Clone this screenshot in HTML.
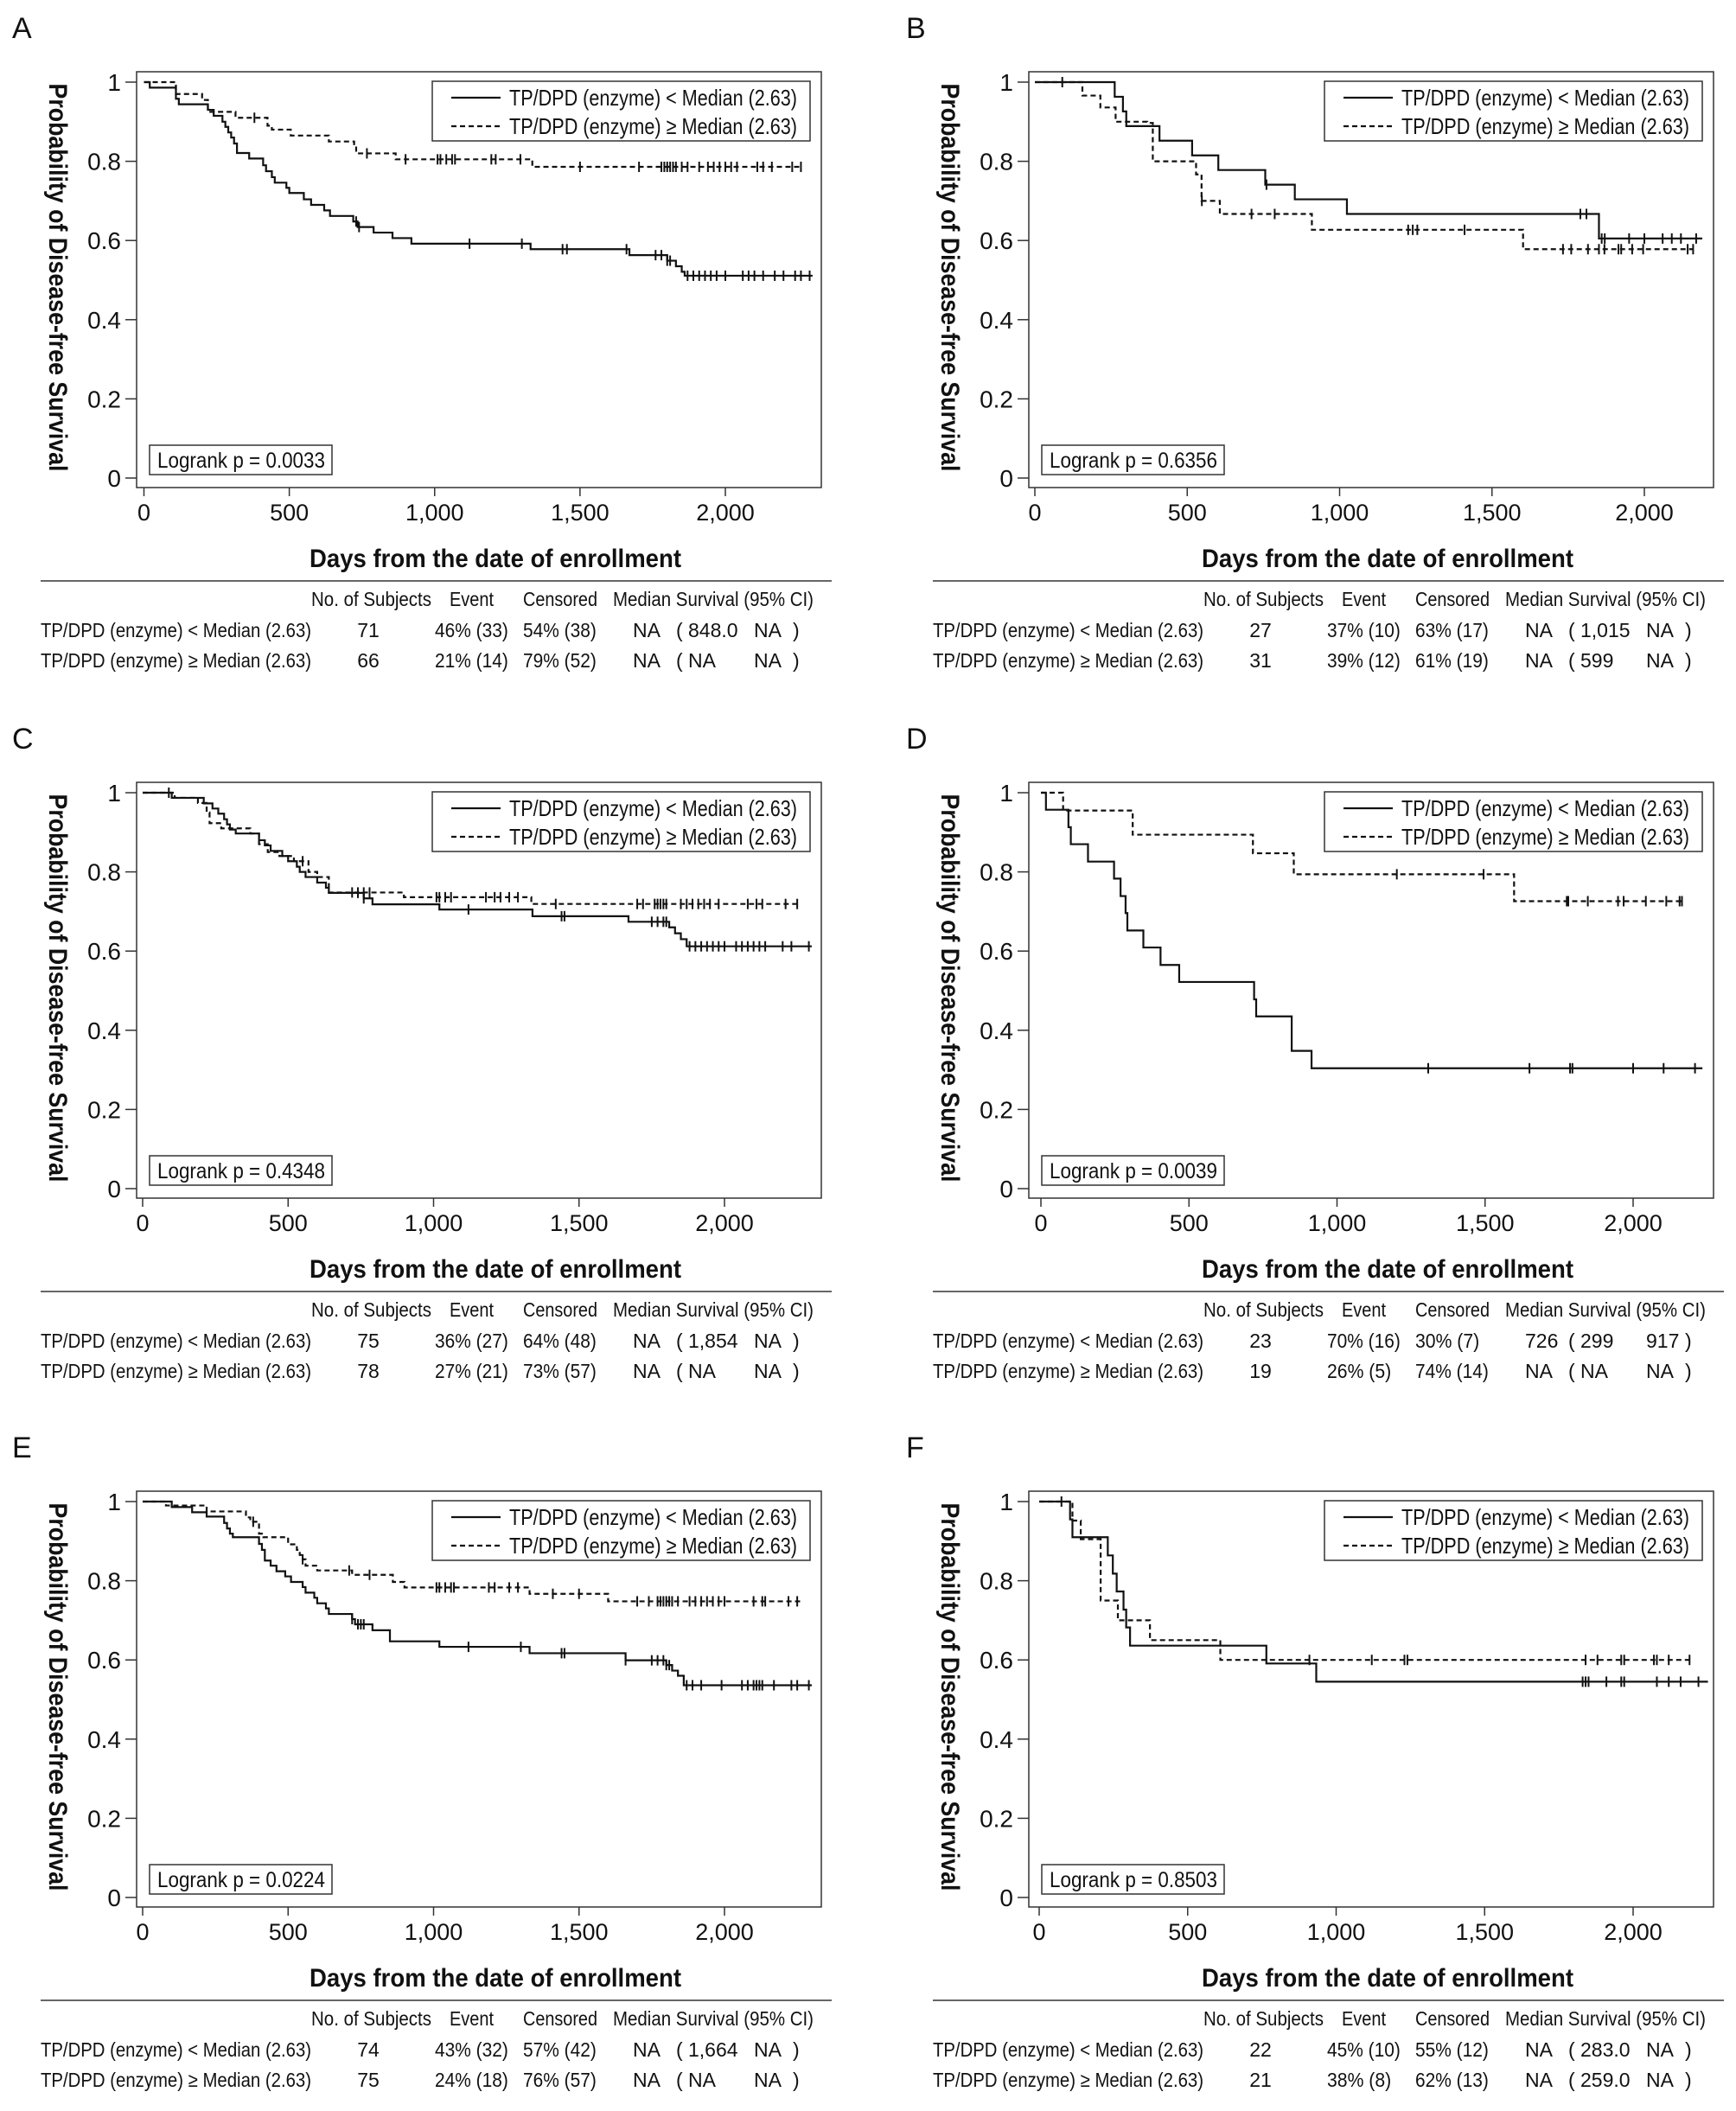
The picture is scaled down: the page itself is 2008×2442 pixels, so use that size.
<!DOCTYPE html>
<html><head><meta charset="utf-8">
<style>
html,body{margin:0;padding:0;background:#fff;}
svg{display:block;}
text{font-family:"Liberation Sans",sans-serif;fill:#111;}
</style></head>
<body>
<svg id="fig" width="2008" height="2442" viewBox="0 0 2008 2442" xmlns="http://www.w3.org/2000/svg"></svg>
<script>
// ---------- data (step times in days, survival after step) ----------
const yTicks = [0, 0.2, 0.4, 0.6, 0.8, 1];
const yTickLabels = ["0", "0.2", "0.4", "0.6", "0.8", "1"];
const xTicks = [0, 500, 1000, 1500, 2000];
const xTickLabels = ["0", "500", "1,000", "1,500", "2,000"];

const A_lowT = [20,110,120,220,240,270,280,290,300,310,320,362,410,420,440,450,490,500,550,575,620,640,720,735,790,855,920,1330,1670,1800,1830,1850,1860];
const A_lowS = [0.986,0.958,0.944,0.93,0.915,0.90,0.887,0.873,0.86,0.845,0.821,0.807,0.79,0.775,0.76,0.746,0.733,0.72,0.704,0.69,0.676,0.662,0.648,0.634,0.62,0.606,0.592,0.578,0.563,0.549,0.535,0.521,0.511];
const A_lowCens = [730,740,1120,1300,1440,1455,1660,1760,1780,1800,1810,1870,1890,1910,1930,1950,1970,2000,2060,2080,2100,2130,2170,2200,2240,2260,2290];
const A_lowEnd = 2300;
const A_highT = [110,200,220,315,425,440,505,636,723,730,866,1336];
const A_highS = [0.97,0.955,0.925,0.91,0.89,0.88,0.865,0.85,0.835,0.82,0.805,0.786];
const A_highCens = [380,767,900,1010,1020,1040,1060,1070,1195,1210,1295,1500,1703,1780,1790,1800,1810,1820,1830,1850,1870,1910,1940,1960,1980,2000,2020,2040,2110,2130,2160,2230,2260];
const A_highEnd = 2260;

const B_lowT = [262,289,300,409,516,602,756,853,1024,1851];
const B_lowS = [0.963,0.926,0.889,0.852,0.815,0.778,0.741,0.704,0.667,0.605];
const B_lowCens = [90,760,1790,1810,1860,1870,1950,2000,2060,2090,2120,2170];
const B_lowEnd = 2190;
const B_highT = [156,215,265,369,387,529,547,607,909,1602];
const B_highS = [0.966,0.936,0.90,0.897,0.80,0.767,0.70,0.667,0.627,0.578];
const B_highCens = [548,711,787,1225,1240,1255,1410,1733,1760,1815,1851,1869,1915,1924,1960,1996,2142,2160];
const B_highEnd = 2160;

const C_lowT = [100,210,240,260,280,290,300,320,400,420,440,480,500,530,540,560,600,630,640,760,790,1020,1340,1670,1810,1830,1850,1870];
const C_lowS = [0.987,0.973,0.96,0.947,0.933,0.92,0.907,0.897,0.88,0.867,0.853,0.84,0.827,0.813,0.80,0.787,0.773,0.76,0.747,0.733,0.718,0.705,0.688,0.674,0.66,0.645,0.63,0.612];
const C_lowCens = [90,740,760,1120,1440,1450,1750,1770,1790,1800,1880,1900,1920,1940,1960,1980,2000,2040,2060,2080,2100,2120,2140,2200,2230,2290];
const C_lowEnd = 2300;
const C_highT = [110,190,220,230,270,370,400,430,470,520,570,600,640,898,1336];
const C_highS = [0.987,0.974,0.95,0.923,0.91,0.897,0.87,0.85,0.84,0.827,0.80,0.787,0.748,0.736,0.719];
const C_highCens = [550,720,740,760,780,1010,1020,1040,1060,1180,1210,1230,1260,1290,1420,1700,1720,1760,1770,1780,1790,1800,1850,1870,1890,1910,1930,1950,1980,2080,2110,2130,2210,2250];
const C_highEnd = 2260;

const D_lowT = [17,93,101,159,247,269,286,292,346,404,467,720,727,847,914];
const D_lowS = [0.957,0.913,0.87,0.826,0.783,0.739,0.696,0.652,0.609,0.565,0.522,0.478,0.435,0.348,0.304];
const D_lowCens = [1308,1650,1787,1795,2000,2103,2209];
const D_lowEnd = 2234;
const D_highT = [75,310,716,854,1598];
const D_highS = [0.955,0.894,0.847,0.794,0.726];
const D_highCens = [1202,1495,1776,1781,1847,1949,1968,2043,2112,2157,2165];
const D_highEnd = 2165;

const E_lowT = [100,170,220,280,290,300,310,400,410,420,440,460,490,510,550,560,590,600,630,640,720,730,790,850,1020,1330,1660,1800,1820,1840,1860];
const E_lowS = [0.986,0.973,0.962,0.946,0.932,0.919,0.91,0.893,0.878,0.851,0.838,0.824,0.811,0.797,0.784,0.77,0.757,0.743,0.73,0.716,0.703,0.69,0.675,0.647,0.633,0.617,0.599,0.587,0.573,0.56,0.536];
const E_lowCens = [720,740,750,760,1120,1300,1440,1450,1660,1750,1770,1790,1800,1810,1870,1890,1920,1990,2060,2080,2100,2110,2120,2130,2170,2230,2250,2290];
const E_lowEnd = 2300;
const E_highT = [80,220,355,370,400,415,500,530,540,550,560,600,720,860,900,1330,1600];
const E_highS = [0.99,0.975,0.96,0.949,0.919,0.91,0.892,0.878,0.865,0.854,0.838,0.826,0.815,0.797,0.783,0.767,0.748];
const E_highCens = [380,550,710,780,1010,1020,1040,1060,1070,1190,1210,1260,1290,1410,1500,1700,1740,1770,1780,1790,1800,1810,1820,1840,1880,1900,1920,1940,1960,1980,2000,2100,2130,2140,2220,2250];
const E_highEnd = 2260;

const F_lowT = [104,112,231,248,261,284,293,306,765,933];
const F_lowS = [0.955,0.91,0.864,0.818,0.773,0.727,0.682,0.636,0.591,0.545];
const F_lowCens = [75,1830,1840,1850,1910,1960,1970,2080,2120,2160,2220];
const F_lowEnd = 2252;
const F_highT = [112,140,207,265,373,610];
const F_highS = [0.952,0.905,0.75,0.70,0.65,0.60];
const F_highCens = [910,1120,1230,1240,1840,1880,1960,1970,2070,2080,2120,2190];
const F_highEnd = 2190;

const pValues = ["0.0033","0.6356","0.4348","0.0039","0.0224","0.8503"];
const tableN = [["71","66"],["27","31"],["75","78"],["23","19"],["74","75"],["22","21"]];
const tableEvent = [["46% (33)","21% (14)"],["37% (10)","39% (12)"],["36% (27)","27% (21)"],["70% (16)","26% (5)"],["43% (32)","24% (18)"],["45% (10)","38% (8)"]];
const tableCens = [["54% (38)","79% (52)"],["63% (17)","61% (19)"],["64% (48)","73% (57)"],["30% (7)","74% (14)"],["57% (42)","76% (57)"],["55% (12)","62% (13)"]];
const tableMed = [["NA","NA"],["NA","NA"],["NA","NA"],["726","NA"],["NA","NA"],["NA","NA"]];
const tableLo = [["848.0","NA"],["1,015","599"],["1,854","NA"],["299","NA"],["1,664","NA"],["283.0","259.0"]];
const tableHi = [["NA","NA"],["NA","NA"],["NA","NA"],["917","NA"],["NA","NA"],["NA","NA"]];

// ---------- layout ----------
const NS = "http://www.w3.org/2000/svg";
const svg = document.getElementById('fig');
function mk(tag, attrs, parent, txt){
  const e = document.createElementNS(NS, tag);
  for (const k in attrs) e.setAttribute(k, attrs[k]);
  if (txt !== undefined) e.textContent = txt;
  (parent || svg).appendChild(e);
  return e;
}
const panels = [
  {id:"A", ox:0, oy:0, x0:166.5, x2k:839, low:[A_lowT,A_lowS,A_lowCens,A_lowEnd], high:[A_highT,A_highS,A_highCens,A_highEnd]},
  {id:"B", ox:1032, oy:0, x0:165, x2k:870, low:[B_lowT,B_lowS,B_lowCens,B_lowEnd], high:[B_highT,B_highS,B_highCens,B_highEnd]},
  {id:"C", ox:0, oy:822, x0:165, x2k:838, low:[C_lowT,C_lowS,C_lowCens,C_lowEnd], high:[C_highT,C_highS,C_highCens,C_highEnd]},
  {id:"D", ox:1032, oy:822, x0:172, x2k:857, low:[D_lowT,D_lowS,D_lowCens,D_lowEnd], high:[D_highT,D_highS,D_highCens,D_highEnd]},
  {id:"E", ox:0, oy:1642, x0:165, x2k:838, low:[E_lowT,E_lowS,E_lowCens,E_lowEnd], high:[E_highT,E_highS,E_highCens,E_highEnd]},
  {id:"F", ox:1032, oy:1642, x0:170, x2k:857, low:[F_lowT,F_lowS,F_lowCens,F_lowEnd], high:[F_highT,F_highS,F_highCens,F_highEnd]}
];
const Y1 = 95, Y0 = 553;
const LBL = ["TP/DPD (enzyme) < Median (2.63)", "TP/DPD (enzyme) \u2265 Median (2.63)"];

function survAt(T, S, t){ let s = 1; for (let i=0;i<T.length;i++){ if (T[i] <= t) s = S[i]; } return s; }

panels.forEach((p, pi) => {
  const g = mk('g', {transform:`translate(${p.ox},${p.oy})`});
  
  
  const xs = d => p.x0 + d * (p.x2k - p.x0) / 2000;
  const ys = v => Y0 - v * (Y0 - Y1);

  const letter = mk('text', {x:p.id==="A"||p.id==="C"||p.id==="E"?14:16, y:44, 'font-size':34}, g, p.id);
  
  

  const box = mk('rect', {x:158, y:83, width:792, height:481, fill:'none', stroke:'#333', 'stroke-width':1.5}, g);
  
  

  // y axis
  const yax = mk('g', {}, g);
  
  
  yTicks.forEach((v, i) => {
    mk('line', {x1:145, x2:158, y1:ys(v), y2:ys(v), stroke:'#333', 'stroke-width':1.5}, yax);
    const t = mk('text', {x:140, y:ys(v)+10, 'font-size':28, 'text-anchor':'end'}, yax, yTickLabels[i]);
    
    
  });
  const yt = mk('text', {x:0, y:0, 'font-size':30, 'font-weight':'bold', 'text-anchor':'middle', transform:`translate(57,321) rotate(90)`, textLength:449, lengthAdjust:'spacingAndGlyphs'}, g, 'Probability of Disease-free Survival');
  
  

  // x axis
  const xax = mk('g', {}, g);
  
  
  xTicks.forEach((d, i) => {
    mk('line', {x1:xs(d), x2:xs(d), y1:564, y2:574, stroke:'#333', 'stroke-width':1.5}, xax);
    const t = mk('text', {x:xs(d), y:602, 'font-size':27, 'text-anchor':'middle'}, xax, xTickLabels[i]);
    
    
  });
  const xt = mk('text', {x:573, y:656, 'font-size':30, 'font-weight':'bold', 'text-anchor':'middle', textLength:430, lengthAdjust:'spacingAndGlyphs'}, g, 'Days from the date of enrollment');
  
  

  // curves
  [p.low, p.high].forEach((ser, si) => {
    const [T, S, C, end] = ser;
    let d = `M${xs(0)},${ys(1)}`;
    for (let i=0;i<T.length;i++){ d += ` H${xs(T[i])} V${ys(S[i])}`; }
    d += ` H${xs(end)}`;
    const path = mk('path', {d:d, fill:'none', stroke:'#111', 'stroke-width':2.2, 'stroke-dasharray': si ? '6 4' : 'none'}, g);
    
    
    C.forEach(c => {
      const cy = ys(survAt(T, S, c));
      const m = mk('line', {x1:xs(c), x2:xs(c), y1:cy-6, y2:cy+6, stroke:'#111', 'stroke-width':2}, g);
      
      
    });
  });

  // legend
  const lg = mk('g', {}, g);
  
  
  mk('rect', {x:500, y:94, width:437, height:69, fill:'#fff', stroke:'#333', 'stroke-width':1.5}, lg);
  [0,1].forEach(k => {
    const yy = 113 + k*33;
    mk('line', {x1:522, x2:579, y1:yy, y2:yy, stroke:'#111', 'stroke-width':2.2, 'stroke-dasharray': k ? '6 4' : 'none'}, lg);
    const t = mk('text', {x:589, y:yy+9, 'font-size':26, textLength:333, lengthAdjust:'spacingAndGlyphs'}, lg, LBL[k]);
    
    
  });

  // logrank
  const lr = mk('g', {}, g);
  
  
  mk('rect', {x:173, y:515, width:211, height:34, fill:'#fff', stroke:'#333', 'stroke-width':1.5}, lr);
  mk('text', {x:182, y:541, 'font-size':25, textLength:194, lengthAdjust:'spacingAndGlyphs'}, lr, 'Logrank p = ' + pValues[pi]);

  // table
  const tb = mk('g', {}, g);
  
  
  mk('line', {x1:47, x2:962, y1:672, y2:672, stroke:'#333', 'stroke-width':1.5}, tb);
  const hdr = [["No. of Subjects",360,139],["Event",520,51],["Censored",605,86],["Median Survival (95% CI)",709,232]];
  hdr.forEach(h => {
    const t = mk('text', {x:h[1], y:701, 'font-size':23, textLength:h[2], lengthAdjust:'spacingAndGlyphs'}, tb, h[0]);
    
    
  });
  [0,1].forEach(r => {
    const yy = 737 + r*35;
    const fs = 23;
    const lab = mk('text', {x:47, y:yy, 'font-size':fs, textLength:313, lengthAdjust:'spacingAndGlyphs'}, tb, LBL[r]);
    
    
    mk('text', {x:426, y:yy, 'font-size':fs, 'text-anchor':'middle'}, tb, tableN[pi][r]);
    mk('text', {x:503, y:yy, 'font-size':fs, textLength:tableEvent[pi][r].length*10.6, lengthAdjust:'spacingAndGlyphs'}, tb, tableEvent[pi][r]);
    mk('text', {x:605, y:yy, 'font-size':fs, textLength:tableCens[pi][r].length*10.6, lengthAdjust:'spacingAndGlyphs'}, tb, tableCens[pi][r]);
    mk('text', {x:732, y:yy, 'font-size':fs}, tb, tableMed[pi][r]);
    mk('text', {x:782, y:yy, 'font-size':fs}, tb, '(');
    mk('text', {x:796, y:yy, 'font-size':fs}, tb, tableLo[pi][r]);
    mk('text', {x:872, y:yy, 'font-size':fs}, tb, tableHi[pi][r]);
    mk('text', {x:917, y:yy, 'font-size':fs}, tb, ')');
  });
});
</script>
</body></html>
